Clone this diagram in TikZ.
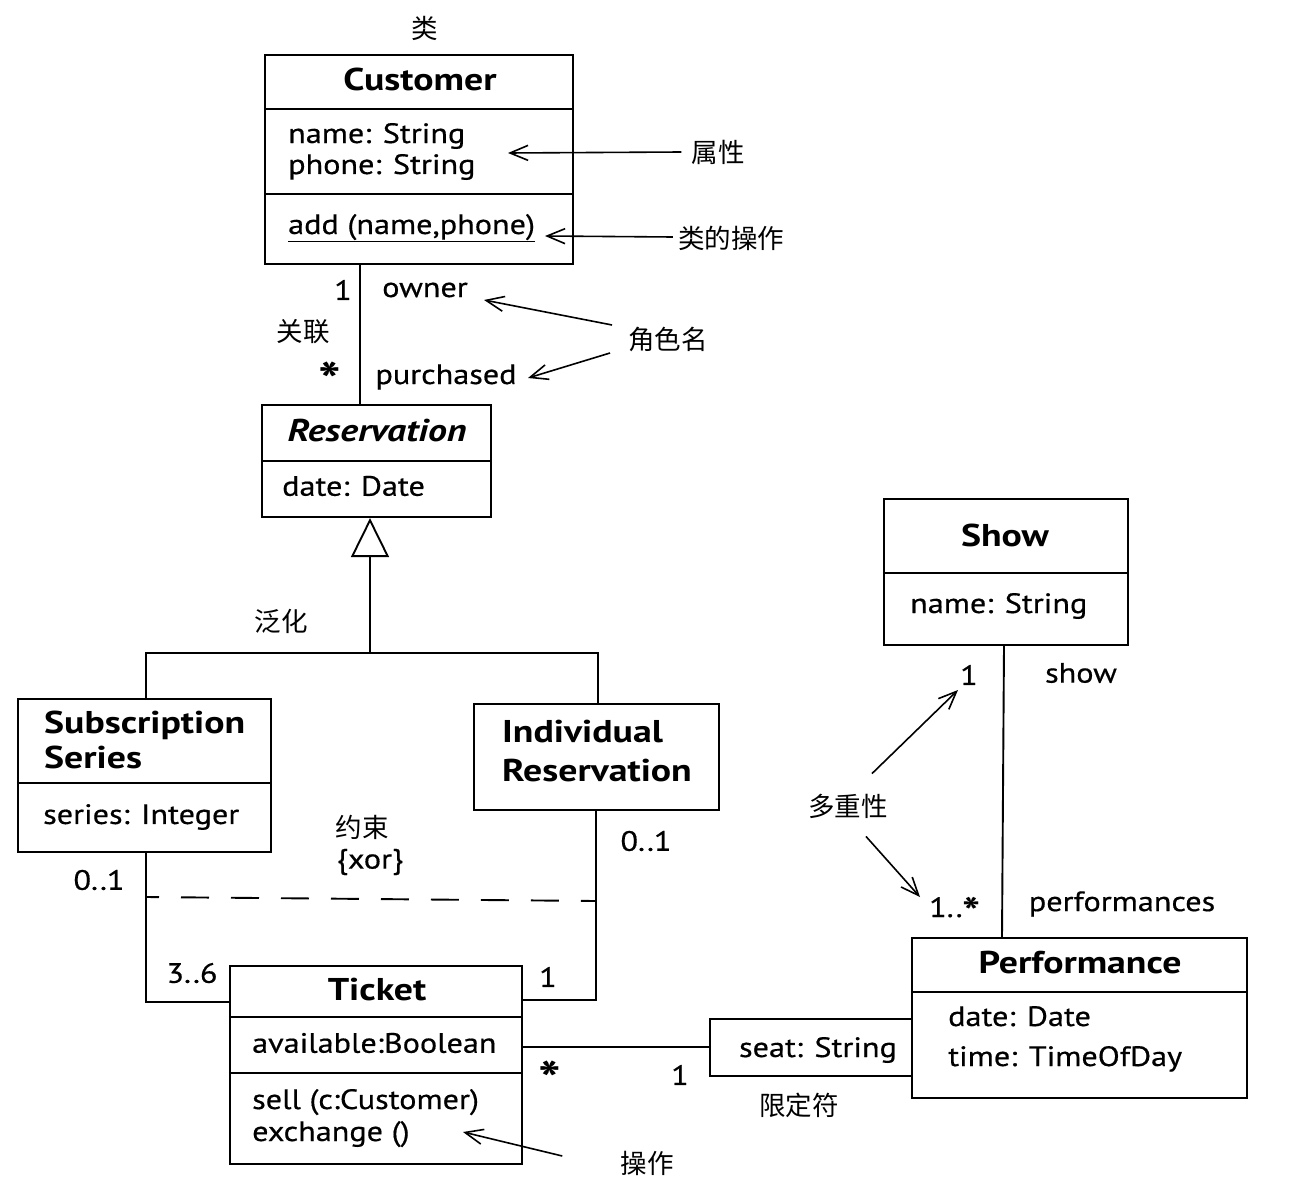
\documentclass[tikz,border=0pt]{standalone}
\usepackage{fontspec}
\setmainfont{PT Sans}[FakeStretch=1.15, FakeBold=0.5]
\newfontfamily\boldf{PT Sans}[FakeStretch=1.2]
\newfontfamily\cjk{Noto Sans CJK SC}
\usetikzlibrary{arrows.meta}
\newcommand{\bigstar}[1]{{\boldf\bfseries\fontsize{#1}{#1}\selectfont *}}
\tikzset{
  txt/.style={font=\fontsize{28}{32}\selectfont, inner sep=0pt},
  ttl/.style={font=\boldf\fontsize{31.5}{35}\selectfont\bfseries, inner sep=0pt},
  zh/.style={font=\cjk\fontsize{26.5}{30}\selectfont, inner sep=0pt},
  box/.style={draw, line width=2.2pt, inner sep=0pt},
  ln/.style={line width=1.9pt},
  ann/.style={line width=1.6pt, -{Straight Barb[length=18pt,width=15pt,line width=1.6pt]}},
}
\begin{document}
\begin{tikzpicture}[x=1pt,y=-1pt]
\useasboundingbox (0,0) rectangle (1312,1188);

% ---------- boxes ----------
\node[box, minimum width=308pt, minimum height=209pt] (cust) at (419,159.5) {};
\node[box, minimum width=229pt, minimum height=112pt] (resv) at (376.5,461) {};
\node[box, minimum width=253pt, minimum height=153pt] (sub) at (144.5,775.5) {};
\node[box, minimum width=245pt, minimum height=106pt] (ind) at (596.5,757) {};
\node[box, minimum width=292pt, minimum height=198pt] (tick) at (376,1065) {};
\node[box, minimum width=202pt, minimum height=57pt] (qual) at (811,1047.5) {};
\node[box, minimum width=335pt, minimum height=160pt] (perf) at (1079.5,1018) {};
\node[box, minimum width=244pt, minimum height=146pt] (show) at (1006,572) {};

% compartments
\draw[line width=2.2pt] (cust.west |- 0,109) -- (cust.east |- 0,109);
\draw[line width=2.2pt] (cust.west |- 0,194) -- (cust.east |- 0,194);
\draw[line width=2.2pt] (resv.west |- 0,461) -- (resv.east |- 0,461);
\draw[line width=2.2pt] (sub.west |- 0,783) -- (sub.east |- 0,783);
\draw[line width=2.2pt] (tick.west |- 0,1017) -- (tick.east |- 0,1017);
\draw[line width=2.2pt] (tick.west |- 0,1073) -- (tick.east |- 0,1073);
\draw[line width=2.2pt] (perf.west |- 0,992) -- (perf.east |- 0,992);
\draw[line width=2.2pt] (show.west |- 0,573) -- (show.east |- 0,573);

% ---------- box texts ----------
\node[ttl] (custT) at (420,79) {Customer};
\node[txt, anchor=base west] (custA1) at (288,143) {name: String};
\node[txt, anchor=base west] (custA2) at (288,174) {phone: String};
\node[txt, anchor=base west] (custO) at (288,234) {\underline{add (name,phone)}};

\node[ttl, font=\boldf\fontsize{31.5}{35}\selectfont\bfseries\itshape] (resvT) at (377,431) {Reservation};
\node[txt, anchor=west] (resvA) at (282,486) {date: Date};

\node[ttl, anchor=base west] (subT1) at (44,733) {Subscription};
\node[ttl, anchor=base west] (subT2) at (44,768) {Series};
\node[txt, anchor=west] (subA) at (43,817) {series: Integer};

\node[ttl, anchor=base west] (indT1) at (502,742) {Individual};
\node[ttl, anchor=base west] (indT2) at (502,781) {Reservation};

\node[ttl] (tickT) at (377,990) {Ticket};
\node[txt, anchor=west] (tickA) at (252,1043) {available:Boolean};
\node[txt, anchor=base west] (tickO1) at (252,1109) {sell (c:Customer)};
\node[txt, anchor=base west] (tickO2) at (252,1141) {exchange ()};

\node[txt] (qualA) at (818,1050) {seat: String};

\node[ttl] (perfT) at (1080,963) {Performance};
\node[txt, anchor=base west] (perfA1) at (948,1026) {date: Date};
\node[txt, anchor=base west] (perfA2) at (948,1066) {time: TimeOfDay};

\node[ttl] (showT) at (1005,535) {Show};
\node[txt, anchor=west] (showA) at (910,606) {name: String};

% ---------- connectors ----------
\draw[ln] (360,0 |- cust.south) -- (360,0 |- resv.north);
\coordinate (gj) at (370,653);
\draw[ln] (146,0 |- sub.north) |- (598,653) -- (598,0 |- ind.north);
\draw[line width=1.9pt, -{Triangle[open, length=39pt, width=38pt, line width=1.9pt]}] (gj) -- (370,0 |- resv.south);
\draw[ln] (146,0 |- sub.south) |- (tick.west |- 0,1002);
\draw[ln] (596,0 |- ind.south) |- (tick.east |- 0,1000);
\draw[line width=1.9pt, dash pattern=on 28pt off 22pt, dash phase=15pt] (146,897) -- (596,901);
\draw[ln] (tick.east |- 0,1047) -- (qual.west |- 0,1047);
\draw[ln] (1004,0 |- show.south) -- (1002,0 |- perf.north);

% ---------- association labels ----------
\node[txt] (m1) at (343,290) {1};
\node[txt] (rOwner) at (425,290) {owner};
\node[txt, anchor=base] (m2) at (330,398) {\bigstar{50}};
\node[txt] (rPurch) at (446,377) {purchased};
\node[txt] (m3) at (99,880) {0..1};
\node[txt] (m4) at (192,973) {3..6};
\node[txt] (m5) at (646,841) {0..1};
\node[txt] (m6) at (548,977) {1};
\node[txt, anchor=base] (m7) at (550,1097) {\bigstar{50}};
\node[txt] (m8) at (680,1075) {1};
\node[txt] (m9) at (969,675) {1};
\node[txt] (rShow) at (1081,673) {show};
\node[txt, anchor=base] (m10) at (955,917) {1..\raisebox{-9pt}{\bigstar{40}}};
\node[txt] (rPerf) at (1122,904) {performances};
\node[txt] (xor) at (370,862) {\{xor\}};

% ---------- annotations ----------
\node[zh] (lCls) at (425,28) {类};
\node[zh] (lAttr) at (718,152) {属性};
\node[zh] (lClsOp) at (731,238) {类的操作};
\node[zh] (lAssoc) at (303,332) {关联};
\node[zh] (lRole) at (668,339) {角色名};
\node[zh] (lGen) at (281,621) {泛化};
\node[zh] (lCons) at (362,827) {约束};
\node[zh] (lMult) at (848,806) {多重性};
\node[zh] (lQual) at (799,1105) {限定符};
\node[zh] (lOp) at (647,1163) {操作};

\coordinate (tAttr) at (508,153);
\coordinate (tClsOp) at (545,236);
\coordinate (tOwner) at (484,300);
\coordinate (tPurch) at (528,378);
\coordinate (tM1) at (958,690);
\coordinate (tM2) at (920,897);
\coordinate (tOp) at (463,1132);

\draw[ann] (lAttr.west) ++(-10,0) -- (tAttr);
\draw[ann] (lClsOp.west) ++(-5,-1) -- (tClsOp);
\draw[ann] (lRole.west) ++(-16,-14) -- (tOwner);
\draw[ann] (lRole.west) ++(-18,14) -- (tPurch);
\draw[ann] (lMult.north) ++(24,-20) -- (tM1);
\draw[ann] (lMult.south) ++(18,18) -- (tM2);
\draw[ann] (lOp.west) ++(-58,-7) -- (tOp);
\end{tikzpicture}
\end{document}
